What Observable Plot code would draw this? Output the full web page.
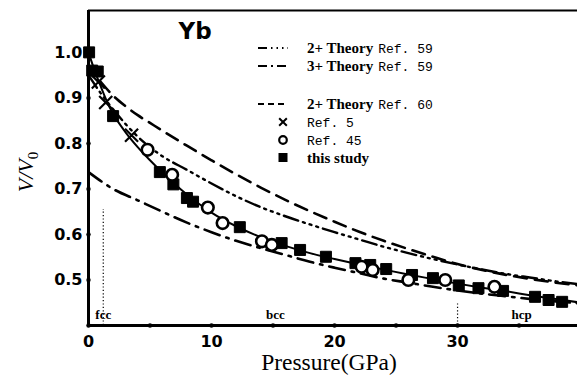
<!DOCTYPE html>
<html><head><meta charset="utf-8">
<script src="https://cdn.jsdelivr.net/npm/d3@7"></script>
<script src="https://cdn.jsdelivr.net/npm/@observablehq/plot@0.6"></script>
<style>
html,body{margin:0;padding:0;background:#fff;}
#wrap{position:relative;width:577px;height:375px;overflow:hidden;background:#fff;}
#wrap svg{position:absolute;left:0;top:0;}
</style></head><body><div id="wrap"></div>
<script>
// ---- data ----
const studyP = [0.05, 0.3, 0.75, 2.0, 5.8, 6.9, 8.0, 8.5, 12.3, 15.7, 17.2, 19.3, 21.7, 22.9, 24.2, 26.3, 28.0, 30.1, 31.7, 33.7, 36.3, 37.4, 38.5];
const studyV = [1.0, 0.96, 0.958, 0.86, 0.737, 0.71, 0.68, 0.672, 0.616, 0.581, 0.566, 0.551, 0.537, 0.533, 0.524, 0.511, 0.504, 0.488, 0.482, 0.476, 0.463, 0.456, 0.452];

const ref45P = [4.8, 6.8, 9.7, 10.9, 14.1, 14.9, 22.2, 23.1, 26.0, 29.0, 33.0];
const ref45V = [0.786, 0.731, 0.659, 0.625, 0.585, 0.577, 0.529, 0.522, 0.50, 0.50, 0.485];

const ref5P = [0.8, 1.4, 3.5];
const ref5V = [0.935, 0.89, 0.818];

const fitP = [0, 0.5, 1, 1.5, 2, 3, 4, 5, 6, 7, 8, 9, 10, 12, 14, 16, 18, 20, 22, 24, 26, 28, 30, 32, 34, 36, 38, 39.8];
const fitV = [1.0, 0.96, 0.925, 0.892, 0.865, 0.825, 0.792, 0.763, 0.736, 0.711, 0.688, 0.667, 0.648, 0.618, 0.594, 0.575, 0.559, 0.546, 0.534, 0.523, 0.512, 0.502, 0.492, 0.483, 0.475, 0.466, 0.458, 0.451];

const th60P = [1, 2, 3, 4, 5, 6, 8, 10, 12, 14, 16, 18, 20, 22, 24, 26, 28, 30, 32, 34, 36, 38, 39.8];
const th60V = [0.935, 0.905, 0.882, 0.862, 0.845, 0.828, 0.795, 0.763, 0.732, 0.703, 0.676, 0.651, 0.628, 0.606, 0.586, 0.568, 0.551, 0.535, 0.522, 0.511, 0.502, 0.494, 0.488];

const th59aP = [0, 1, 2, 3, 4, 6, 8, 10, 12, 14, 16, 18, 20, 22, 24, 26, 28, 30, 32, 34, 36, 38, 39.8];
const th59aV = [0.95, 0.91, 0.875, 0.843, 0.815, 0.772, 0.742, 0.712, 0.684, 0.66, 0.64, 0.622, 0.605, 0.589, 0.573, 0.559, 0.546, 0.534, 0.523, 0.513, 0.505, 0.497, 0.491];

const th59bP = [0, 2, 4, 6, 8, 10, 12, 14, 16, 18, 20, 22, 24, 26, 28, 30, 32, 34, 36, 38, 39.8];
const th59bV = [0.737, 0.70, 0.675, 0.65, 0.626, 0.605, 0.586, 0.57, 0.555, 0.54, 0.527, 0.515, 0.503, 0.494, 0.485, 0.477, 0.47, 0.464, 0.458, 0.453, 0.449];

const xTicks = [0, 5, 10, 15, 20, 25, 30, 35];
const xLabels = [0, 10, 20, 30];
const yTicks = [0.5, 0.6, 0.7, 0.8, 0.9, 1.0];

const phaseNames = ["fcc", "bcc", "hcp"];
const phaseP = [1.2, 15.2, 35.2];
const boundaryP = [1.2, 30];
const boundaryTop = [0.655, 0.45];

const legendLabels = ["2+ Theory", "3+ Theory", "2+ Theory", "", "", "this study"];
const legendRefs = ["Ref. 59", "Ref. 59", "Ref. 60", "Ref. 5", "Ref. 45", ""];

// ---- build ----
const zip = (a, b) => a.map((v, i) => ({x: v, y: b[i]}));
const study = zip(studyP, studyV), ref45 = zip(ref45P, ref45V), ref5 = zip(ref5P, ref5V);
const fit = zip(fitP, fitV), th60 = zip(th60P, th60V), th59a = zip(th59aP, th59aV), th59b = zip(th59bP, th59bV);
const YMIN = 0.4, YMAX = 1.092;

const sans = "DejaVu Sans";
const serif = "Liberation Serif";

const chart = Plot.plot({
  width: 577, height: 375,
  marginLeft: 88, marginRight: 0, marginTop: 10, marginBottom: 50,
  x: {domain: [0, 39.75], axis: null},
  y: {domain: [YMIN, YMAX], axis: null},
  style: {background: "#fff", color: "#000", overflow: "visible"},
  marks: [
    // phase boundaries
    Plot.ruleX(boundaryP.map((p, i) => ({x: p, t: boundaryTop[i]})), {x: "x", y1: YMIN, y2: "t", stroke: "#000", strokeWidth: 1.2, strokeDasharray: "1.2,2.2"}),
    // theory curves
    Plot.line(th60, {x: "x", y: "y", stroke: "#000", strokeWidth: 2.6, strokeDasharray: "13,8", curve: "monotone-x"}),
    Plot.line(th59a, {x: "x", y: "y", stroke: "#000", strokeWidth: 2.4, strokeDasharray: "15,5,2,5,2,5,2,5", curve: "monotone-x"}),
    Plot.line(th59b, {x: "x", y: "y", stroke: "#000", strokeWidth: 2.6, strokeDasharray: "16,7,2.5,7", curve: "monotone-x"}),
    // fit
    Plot.line(fit, {x: "x", y: "y", stroke: "#000", strokeWidth: 2, curve: "monotone-x"}),
    // data
    Plot.dot(study, {x: "x", y: "y", symbol: "square", r: 6.2, fill: "#000", stroke: "#000", strokeWidth: 1, strokeLinejoin: "round"}),
    Plot.dot(ref45, {x: "x", y: "y", symbol: "circle", r: 5.8, fill: "#fff", stroke: "#000", strokeWidth: 2.6}),
    Plot.dot(ref5, {x: "x", y: "y", symbol: "times", r: 6, stroke: "#000", strokeWidth: 2.2}),
    // frame
    Plot.ruleY([YMAX], {stroke: "#000", strokeWidth: 2}),
    Plot.ruleX([0], {stroke: "#000", strokeWidth: 3}),
    Plot.ruleY([YMIN], {stroke: "#000", strokeWidth: 3}),
    // tick dots
    Plot.dot(xTicks, {x: d => d, y: YMIN, r: 2.2, fill: "#000", stroke: null}),
    Plot.dot(yTicks, {x: 0, y: d => d, r: 2.2, fill: "#000", stroke: null}),
    // tick labels
    Plot.text(xLabels, {x: d => d, y: YMIN, dy: 16, text: d => String(d), fontFamily: sans, fontWeight: "bold", fontSize: 16, fill: "#000"}),
    Plot.text(yTicks, {x: 0, y: d => d, dx: -6, textAnchor: "end", text: d => d.toFixed(1), fontFamily: sans, fontWeight: "bold", fontSize: 16, fill: "#000"}),
    // phase labels
    Plot.text(phaseNames.map((n, i) => ({n, p: phaseP[i]})), {x: "p", y: YMIN, dy: -11, text: "n", fontFamily: serif, fontWeight: "bold", fontSize: 13, fill: "#000"}),
    // title
    Plot.text(["Yb"], {frameAnchor: "top-left", dx: 90, dy: 12, textAnchor: "start", lineAnchor: "top", text: d => d, fontFamily: sans, fontWeight: "bold", fontSize: 23, fill: "#000"})
  ]
});
const wrap = document.getElementById("wrap");
wrap.appendChild(chart);

// axis titles (with subscript) and legend overlay
const svg = d3.select(chart);
svg.append("text").attr("x", 329).attr("y", 370).attr("text-anchor", "middle")
  .attr("font-family", serif).attr("font-size", 23.5).attr("fill", "#000").text("Pressure(GPa)");
const yl = svg.append("text").attr("transform", "translate(33,172) rotate(-90)").attr("text-anchor", "middle")
  .attr("font-family", serif).attr("font-style", "italic").attr("font-size", 22).attr("fill", "#000");
yl.append("tspan").text("V/V");
yl.append("tspan").attr("font-size", 15).attr("dy", 5).attr("font-style", "normal").text("0");

const lg = svg.append("g").attr("text-anchor", "start");
const rowY = [48, 66, 104, 122, 140, 158];
const dashes = ["9,4,1.5,4,1.5,4,1.5,4", "9,4,2,4", "6,4"];
for (let i = 0; i < 3; i++) {
  lg.append("line").attr("x1", 258).attr("x2", 288).attr("y1", rowY[i]).attr("y2", rowY[i])
    .attr("stroke", "#000").attr("stroke-width", 2).attr("stroke-dasharray", dashes[i]);
}
lg.append("path").attr("d", d3.symbol(d3.symbolTimes, 40)()).attr("transform", `translate(283,${rowY[3]})`).attr("stroke", "#000").attr("stroke-width", 2).attr("fill", "none");
lg.append("circle").attr("cx", 283).attr("cy", rowY[4]).attr("r", 3.8).attr("fill", "#fff").attr("stroke", "#000").attr("stroke-width", 2.2);
lg.append("rect").attr("x", 278.5).attr("y", rowY[5] - 5).attr("width", 9).attr("height", 9).attr("fill", "#000");
for (let i = 0; i < 6; i++) {
  const t = lg.append("text").attr("x", 307).attr("y", rowY[i] + 5).attr("fill", "#000").attr("text-anchor", "start");
  if (legendLabels[i]) t.append("tspan").attr("font-family", serif).attr("font-weight", "bold").attr("font-size", 15).text(legendLabels[i]);
  if (legendRefs[i]) t.append("tspan").attr("font-family", "Liberation Mono").attr("font-size", 13).attr("dx", legendLabels[i] ? 5 : 0).text(legendRefs[i]);
}
</script></body></html>
